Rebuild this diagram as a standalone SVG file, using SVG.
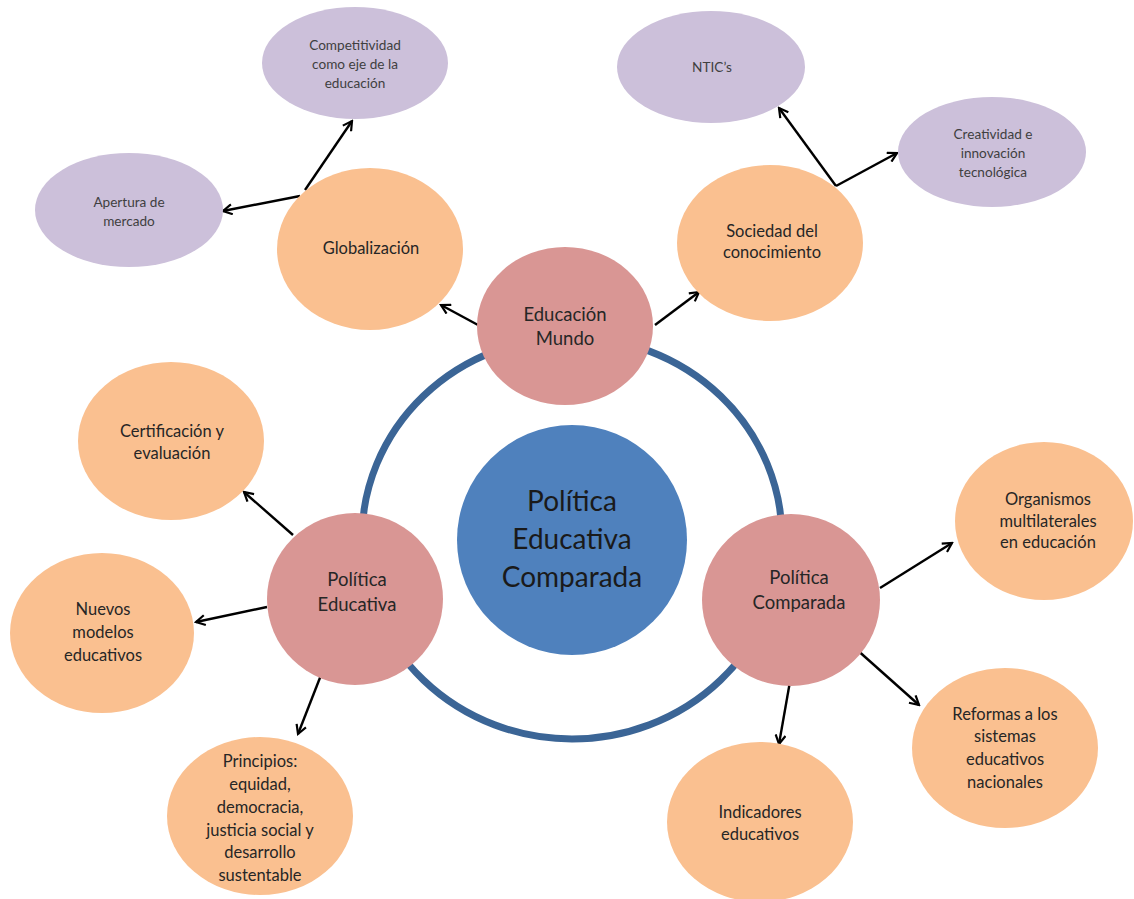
<svg xmlns="http://www.w3.org/2000/svg" width="1134" height="899" viewBox="0 0 1134 899">
<defs>
<marker id="arr" viewBox="0 0 12 12" refX="10" refY="6" markerWidth="12" markerHeight="12" markerUnits="userSpaceOnUse" orient="auto">
<path d="M1,1 L10,6 L1,11" fill="none" stroke="#000" stroke-width="2.2"/>
</marker>
<style>
text{font-family:Lato,"Open Sans","Liberation Sans",sans-serif;text-anchor:middle}
.lav{fill:#CCC0DA}
.pea{fill:#FAC090}
.pin{fill:#D99694}
.tl{font-size:13.6px;fill:#3f3f3f}
.tp{font-size:16.5px;fill:#262626}
.tk{font-size:18.5px;fill:#262626}
.tc{font-size:28px;fill:#1a1a1a}
.c line{stroke:#000;stroke-width:2.4;marker-end:url(#arr)}
</style>
</defs>
<rect width="1134" height="899" fill="#fff"/>
<ellipse cx="572" cy="538" rx="210" ry="201" fill="none" stroke="#3B6596" stroke-width="7"/>
<g class="c">
<line x1="478" y1="325" x2="441" y2="305"/>
<line x1="655" y1="325" x2="699" y2="292"/>
<line x1="300" y1="196" x2="223" y2="211"/>
<line x1="305" y1="190" x2="352" y2="121"/>
<line x1="836" y1="186" x2="779" y2="108"/>
<line x1="836" y1="186" x2="897" y2="153"/>
<line x1="293" y1="535" x2="244" y2="492"/>
<line x1="267" y1="607" x2="196" y2="622"/>
<line x1="323" y1="670" x2="298" y2="734"/>
<line x1="880" y1="588" x2="952" y2="543"/>
<line x1="792" y1="670" x2="779" y2="744"/>
<line x1="855" y1="648" x2="919" y2="705"/>
</g>
<g id="competitividad"><ellipse class="lav" cx="355" cy="63" rx="93" ry="56"/><text class="tl"><tspan x="355" y="50">Competitividad</tspan><tspan x="355" y="69">como eje de la</tspan><tspan x="355" y="88">educación</tspan></text></g>
<g id="apertura"><ellipse class="lav" cx="129" cy="210" rx="94" ry="57"/><text class="tl"><tspan x="129" y="207">Apertura de</tspan><tspan x="129" y="226">mercado</tspan></text></g>
<g id="ntics"><ellipse class="lav" cx="711" cy="67" rx="94" ry="56"/><text class="tl" x="712" y="72">NTIC’s</text></g>
<g id="creatividad"><ellipse class="lav" cx="992" cy="152" rx="94" ry="55"/><text class="tl"><tspan x="993" y="139">Creatividad e</tspan><tspan x="993" y="158">innovación</tspan><tspan x="993" y="177">tecnológica</tspan></text></g>
<g id="globalizacion"><ellipse class="pea" cx="370" cy="249" rx="93" ry="81"/><text class="tp" x="371" y="254">Globalización</text></g>
<g id="sociedad"><ellipse class="pea" cx="770" cy="243" rx="93" ry="78"/><text class="tp"><tspan x="772" y="237">Sociedad del</tspan><tspan x="772" y="258">conocimiento</tspan></text></g>
<g id="educacion-mundo"><ellipse class="pin" cx="565" cy="326" rx="88" ry="79"/><text class="tk"><tspan x="565" y="321">Educación</tspan><tspan x="565" y="345">Mundo</tspan></text></g>
<g id="centro"><circle cx="572" cy="540" r="115" fill="#4F81BD"/><text class="tc"><tspan x="572" y="511">Política</tspan><tspan x="572" y="549">Educativa</tspan><tspan x="572" y="587">Comparada</tspan></text></g>
<g id="politica-educativa"><ellipse class="pin" cx="355" cy="599" rx="88" ry="86"/><text class="tk"><tspan x="357" y="586">Política</tspan><tspan x="357" y="611">Educativa</tspan></text></g>
<g id="politica-comparada"><ellipse class="pin" cx="791" cy="600" rx="89" ry="86"/><text class="tk"><tspan x="799" y="584">Política</tspan><tspan x="799" y="609">Comparada</tspan></text></g>
<g id="certificacion"><ellipse class="pea" cx="171" cy="441" rx="93" ry="79"/><text class="tp"><tspan x="172" y="437">Certificación y</tspan><tspan x="172" y="459">evaluación</tspan></text></g>
<g id="nuevos"><ellipse class="pea" cx="102" cy="633" rx="92" ry="80"/><text class="tp"><tspan x="103" y="615">Nuevos</tspan><tspan x="103" y="638">modelos</tspan><tspan x="103" y="661">educativos</tspan></text></g>
<g id="principios"><ellipse class="pea" cx="260" cy="816" rx="93" ry="79"/><text class="tp"><tspan x="260" y="767">Principios:</tspan><tspan x="260" y="790">equidad,</tspan><tspan x="260" y="813">democracia,</tspan><tspan x="260" y="836">justicia social y</tspan><tspan x="260" y="858">desarrollo</tspan><tspan x="260" y="881">sustentable</tspan></text></g>
<g id="organismos"><ellipse class="pea" cx="1044" cy="521" rx="89" ry="79"/><text class="tp"><tspan x="1048" y="505">Organismos</tspan><tspan x="1048" y="527">multilaterales</tspan><tspan x="1048" y="548">en educación</tspan></text></g>
<g id="indicadores"><ellipse class="pea" cx="760" cy="822" rx="93" ry="80"/><text class="tp"><tspan x="760" y="818">Indicadores</tspan><tspan x="760" y="840">educativos</tspan></text></g>
<g id="reformas"><ellipse class="pea" cx="1005" cy="748" rx="93" ry="80"/><text class="tp"><tspan x="1005" y="720">Reformas a los</tspan><tspan x="1005" y="742">sistemas</tspan><tspan x="1005" y="765">educativos</tspan><tspan x="1005" y="788">nacionales</tspan></text></g>
</svg>
